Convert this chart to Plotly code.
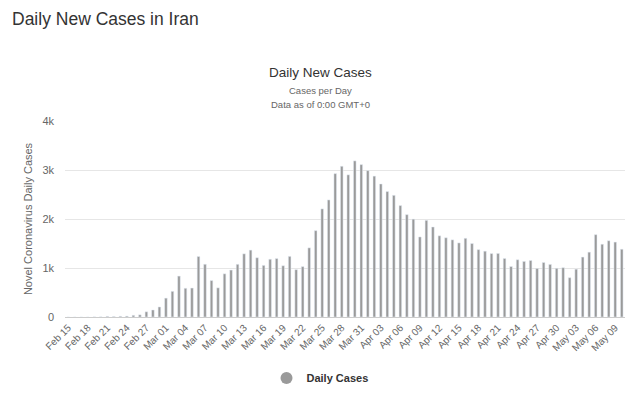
import plotly.graph_objects as go
import datetime as dt

start = dt.date(2020, 2, 15)
n_days = 86
dates = [(start + dt.timedelta(days=i)).strftime("%b %d") for i in range(n_days)]

daily_cases = [
    0, 0, 0, 0, 2, 3, 13, 10, 15, 18, 34, 44, 106, 143, 205,
    385, 523, 835, 586, 591, 1234, 1076, 743, 595, 881, 958, 1075, 1289, 1365, 1209,
    1053, 1178, 1192, 1046, 1237, 966, 1028, 1411, 1762, 2206, 2389, 2926, 3076, 2901,
    3186, 3110,
    2987, 2875, 2715, 2560, 2483, 2274, 2089, 1997, 1634, 1972, 1837, 1657, 1617, 1574,
    1512, 1606, 1499, 1374, 1343, 1294, 1297, 1194, 1030, 1168, 1134, 1153, 991, 1112,
    1073, 993,
    1006, 802, 976, 1223, 1323, 1680, 1485, 1556, 1529, 1383,
]

tick_labels = dates[::3]
y_ticks = [0, 1000, 2000, 3000, 4000]
y_tick_text = ["0", "1k", "2k", "3k", "4k"]

bar_color = "#9a9a9a"
font_family = "Liberation Sans, Arial, sans-serif"

OFF = 8  # page body margin
W, H = 640 - OFF, 398 - OFF
L, R, T, B = 65 - OFF, 15, 121 - OFF, 81
plot_w = W - L - R
plot_h = H - T - B


def px_x(px):
    return (px - OFF - L) / plot_w


def px_y(py):
    return (H - B - (py - OFF)) / plot_h


fig = go.Figure()
fig.add_trace(go.Bar(
    x=dates, y=daily_cases, marker_color=bar_color, width=0.4,
    showlegend=False, name="Daily Cases",
))
fig.add_trace(go.Scatter(
    x=[None], y=[None], mode="markers", name="<b>Daily Cases</b>",
    marker=dict(symbol="circle", size=11, color=bar_color), showlegend=True,
))

fig.update_layout(
    width=W, height=H,
    paper_bgcolor="white", plot_bgcolor="white",
    margin=dict(l=L, r=R, t=T, b=B, autoexpand=False),
    font=dict(family=font_family, color="#666666", size=10),
    legend=dict(orientation="h", x=px_x(320), xanchor="center", y=px_y(378), yanchor="middle",
                font=dict(size=11, color="#333333"), itemsizing="constant",
                bgcolor="rgba(0,0,0,0)"),
    annotations=[
        dict(text="Daily New Cases in Iran", x=px_x(10), y=px_y(19),
             showarrow=False, xanchor="left", yanchor="middle",
             font=dict(size=17.5, color="#333333")),
        dict(text="Daily New Cases", x=px_x(320), y=px_y(72), showarrow=False,
             xanchor="center", yanchor="middle", font=dict(size=13.5, color="#333333")),
        dict(text="Cases per Day", x=px_x(320), y=px_y(91), showarrow=False,
             xanchor="center", yanchor="middle", font=dict(size=9.5, color="#666666")),
        dict(text="Data as of 0:00 GMT+0", x=px_x(320), y=px_y(104), showarrow=False,
             xanchor="center", yanchor="middle", font=dict(size=9.5, color="#666666")),
    ],
)
for a in fig.layout.annotations:
    a.update(xref="paper", yref="paper")

fig.update_xaxes(
    type="category", tickmode="array", tickvals=tick_labels, ticktext=tick_labels,
    tickangle=-45, showgrid=False, showline=True, linecolor="#cccccc", linewidth=1,
    ticks="", tickfont=dict(size=10, color="#666666"), automargin=False,
)
fig.update_yaxes(
    range=[0, 4000], tickvals=y_ticks, ticktext=y_tick_text,
    showgrid=True, gridcolor="#e6e6e6", gridwidth=1, zeroline=False,
    tickfont=dict(size=11, color="#666666"), ticklabelstandoff=10, automargin=False,
    title=dict(text="Novel Coronavirus Daily Cases", font=dict(size=11, color="#666666"),
               standoff=7),
)

fig.write_html("out.html")
